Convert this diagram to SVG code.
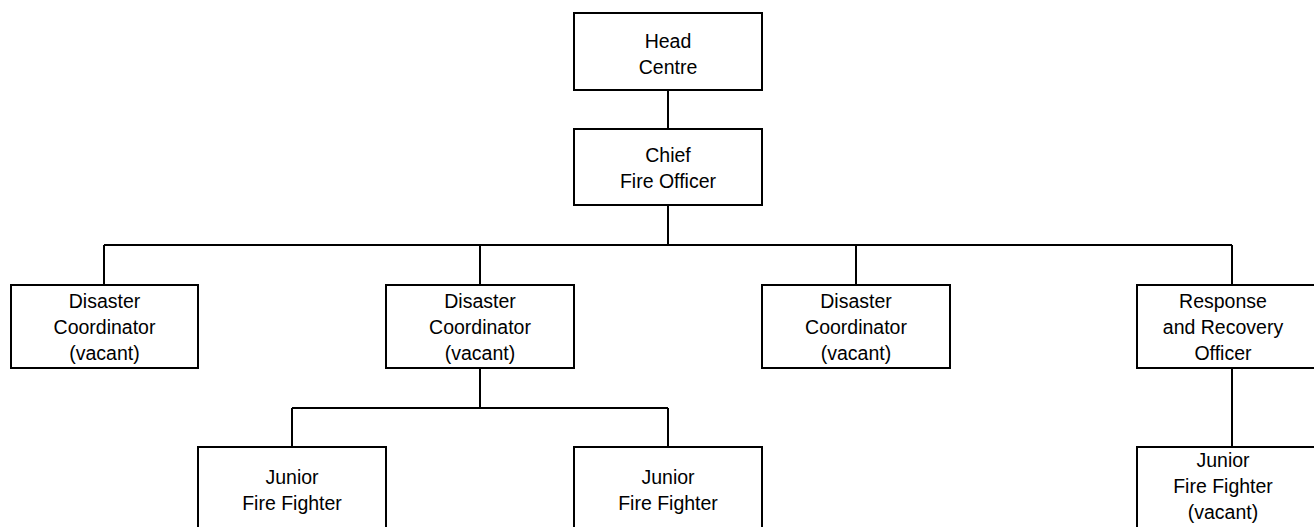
<svg xmlns="http://www.w3.org/2000/svg" width="1314" height="527" viewBox="0 0 1314 527">
<style>
.box{fill:#fff;stroke:#000;stroke-width:2}
.c{fill:none;stroke:#000;stroke-width:2}
text{font-family:"Liberation Sans",Arial,sans-serif;font-size:19.5px;fill:#000;text-anchor:middle}
</style>
<rect width="1314" height="527" fill="#fff"/>
<g id="connectors">
<path class="c" d="M668 90V129M668 205V245M104 245H1232M104 245V285M480 245V285M856 245V285M1232 245V285M480 368V408M292 408H668M292 408V447M668 408V447M1232 368V447"/>
</g>
<g id="head"><rect class="box" x="574" y="13" width="188" height="77"/><text x="668" y="48">Head</text><text x="668" y="74">Centre</text></g>
<g id="chief"><rect class="box" x="574" y="129" width="188" height="76"/><text x="668" y="162">Chief</text><text x="668" y="188">Fire Officer</text></g>
<g id="dc1"><rect class="box" x="11" y="285" width="187" height="83"/><text x="104.5" y="308">Disaster</text><text x="104.5" y="334">Coordinator</text><text x="104.5" y="360">(vacant)</text></g>
<g id="dc2"><rect class="box" x="386" y="285" width="188" height="83"/><text x="480" y="308">Disaster</text><text x="480" y="334">Coordinator</text><text x="480" y="360">(vacant)</text></g>
<g id="dc3"><rect class="box" x="762" y="285" width="188" height="83"/><text x="856" y="308">Disaster</text><text x="856" y="334">Coordinator</text><text x="856" y="360">(vacant)</text></g>
<g id="rro"><rect class="box" x="1137" y="285" width="190" height="83"/><text x="1223" y="308">Response</text><text x="1223" y="334">and Recovery</text><text x="1223" y="360">Officer</text></g>
<g id="jff1"><rect class="box" x="198" y="447" width="188" height="90"/><text x="292" y="484">Junior</text><text x="292" y="510">Fire Fighter</text></g>
<g id="jff2"><rect class="box" x="574" y="447" width="188" height="90"/><text x="668" y="484">Junior</text><text x="668" y="510">Fire Fighter</text></g>
<g id="jff3"><rect class="box" x="1137" y="447" width="190" height="90"/><text x="1223" y="467">Junior</text><text x="1223" y="493">Fire Fighter</text><text x="1223" y="519">(vacant)</text></g>
</svg>
